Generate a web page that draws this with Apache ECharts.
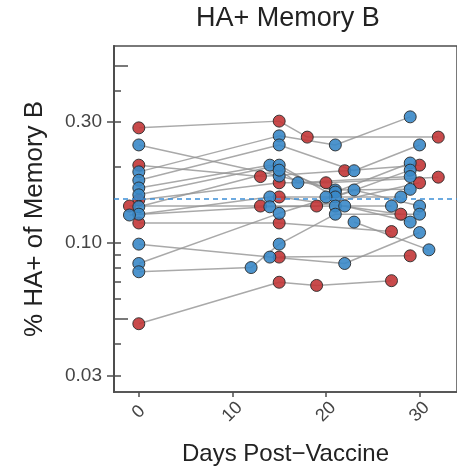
<!DOCTYPE html>
<html>
<head>
    <meta charset="utf-8">
    <title>HA+ Memory B</title>
    <script src="https://cdn.jsdelivr.net/npm/echarts@6/dist/echarts.min.js"></script>
    <style>
        html, body { margin: 0; padding: 0; background: #fff; }
        #chart { width: 457px; height: 471px; }
    </style>
</head>
<body>
<div id="chart"></div>
<script>
    // subjects: [day, fraction] pairs, one list per subject
    var redSubjects = [
        [[0, 0.285], [15, 0.303], [18, 0.262], [32, 0.262]],
        [[0, 0.203], [13, 0.183], [22, 0.193], [30, 0.203]],
        [[0, 0.148], [15, 0.173], [20, 0.173], [32, 0.182]],
        [[-1, 0.140], [13, 0.140], [19, 0.140], [30, 0.173]],
        [[0, 0.120], [15, 0.120], [27, 0.111]],
        [[0, 0.048], [15, 0.070], [19, 0.068], [27, 0.071]],
        [[15, 0.152], [28, 0.130]],
        [[15, 0.088], [29, 0.089]]
    ];
    var blueSubjects = [
        [[0, 0.244], [15, 0.184], [21, 0.162], [29, 0.163]],
        [[0, 0.191], [15, 0.265], [21, 0.244], [29, 0.315]],
        [[0, 0.177], [15, 0.244], [23, 0.193], [30, 0.244]],
        [[0, 0.165], [14, 0.203], [21, 0.159], [29, 0.207]],
        [[0, 0.155], [15, 0.203], [21, 0.152], [29, 0.194]],
        [[0, 0.139], [15, 0.194], [17, 0.173], [29, 0.183]],
        [[0, 0.130], [14, 0.152], [20, 0.152], [28, 0.152]],
        [[-1, 0.129], [14, 0.139], [21, 0.140], [27, 0.140]],
        [[0, 0.099], [14, 0.088], [22, 0.083], [30, 0.110]],
        [[0, 0.083], [15, 0.131], [23, 0.162], [30, 0.140]],
        [[0, 0.077], [12, 0.080], [15, 0.099], [21, 0.130], [30, 0.130]],
        [[22, 0.140], [29, 0.121]],
        [[23, 0.121], [31, 0.094]]
    ];
    var refLine = 0.152;
    var xTicks = [0, 10, 20, 30];
    var yLabels = [0.03, 0.1, 0.3];
    var yMinor = [0.03, 0.04, 0.06, 0.07, 0.08, 0.09, 0.1, 0.2, 0.3, 0.4];
    var yLong = [0.05, 0.5];

    var font = "'Liberation Sans', Arial, sans-serif";
    var axisColor = '#4d4d4d';
    var yMin = 0.0258, yMax = 0.60;

    var series = [];
    redSubjects.concat(blueSubjects).forEach(function (s) {
        series.push({
            type: 'line',
            data: s,
            showSymbol: false,
            silent: true,
            z: 1,
            lineStyle: {color: '#939393', width: 1.5, opacity: 0.8}
        });
    });

    function flat(list) {
        var out = [];
        list.forEach(function (s) { out = out.concat(s); });
        return out;
    }

    series.push({
        type: 'scatter',
        data: flat(redSubjects),
        symbolSize: 12,
        z: 2,
        itemStyle: {color: '#c23637', borderColor: '#2a2a2a', borderWidth: 1, opacity: 0.9}
    });
    series.push({
        type: 'scatter',
        data: flat(blueSubjects),
        symbolSize: 12,
        z: 2,
        itemStyle: {color: '#3a88c8', borderColor: '#2a2a2a', borderWidth: 1, opacity: 0.9}
    });
    series.push({
        type: 'line',
        data: [],
        z: 3,
        markLine: {
            silent: true,
            symbol: 'none',
            label: {show: false},
            lineStyle: {color: '#3d8fd6', type: [5, 4], width: 1.5},
            data: [{yAxis: refLine}]
        }
    });

    function yAx(extra) {
        var base = {
            type: 'log',
            logBase: 10,
            min: yMin,
            max: yMax,
            position: 'left',
            splitLine: {show: false},
            axisLine: {show: true, onZero: false, lineStyle: {color: axisColor, width: 1.5}},
            axisLabel: {show: false},
            axisTick: {show: false}
        };
        for (var k in extra) base[k] = extra[k];
        return base;
    }

    var myChart = echarts.init(document.getElementById('chart'));
    myChart.setOption({
        animation: false,
        backgroundColor: '#fff',
        textStyle: {fontFamily: font},
        title: {
            text: 'HA+ Memory B',
            left: 191,
            top: 0,
            textStyle: {fontFamily: font, fontSize: 27, fontWeight: 'normal', color: '#222'}
        },
        grid: {
            left: 114, top: 46, right: -16, bottom: 79,
            show: true, borderColor: axisColor, borderWidth: 1.5
        },
        xAxis: {
            type: 'value',
            min: -2.65,
            max: 34,
            name: 'Days Post\u2212Vaccine',
            nameLocation: 'middle',
            nameGap: 50,
            nameTextStyle: {fontFamily: font, fontSize: 24, color: '#222'},
            splitLine: {show: false},
            axisLine: {show: true, onZero: false, lineStyle: {color: axisColor, width: 1.5}},
            axisTick: {show: true, customValues: xTicks, length: 5, lineStyle: {color: axisColor, width: 1.5}},
            axisLabel: {
                customValues: xTicks,
                rotate: 45,
                margin: 20,
                align: 'center',
                verticalAlign: 'middle',
                fontSize: 18,
                color: '#444',
                fontFamily: font
            }
        },
        yAxis: [
            yAx({
                name: '% HA+ of Memory B',
                nameLocation: 'middle',
                nameGap: 66,
                nameTextStyle: {fontFamily: font, fontSize: 26, color: '#222'},
                axisTick: {show: true, customValues: yLabels, length: 7, lineStyle: {color: axisColor, width: 1.5}},
                axisLabel: {
                    show: true,
                    customValues: yLabels,
                    margin: 12,
                    fontSize: 19,
                    color: '#444',
                    fontFamily: font,
                    formatter: function (v) { return Number(v).toFixed(2); }
                }
            }),
            yAx({
                axisTick: {show: true, inside: true, customValues: yMinor, length: 7, lineStyle: {color: axisColor, width: 1.5}}
            }),
            yAx({
                axisTick: {show: true, inside: true, customValues: yLong, length: 14, lineStyle: {color: axisColor, width: 1.5}}
            })
        ],
        series: series
    });
</script>
</body>
</html>
